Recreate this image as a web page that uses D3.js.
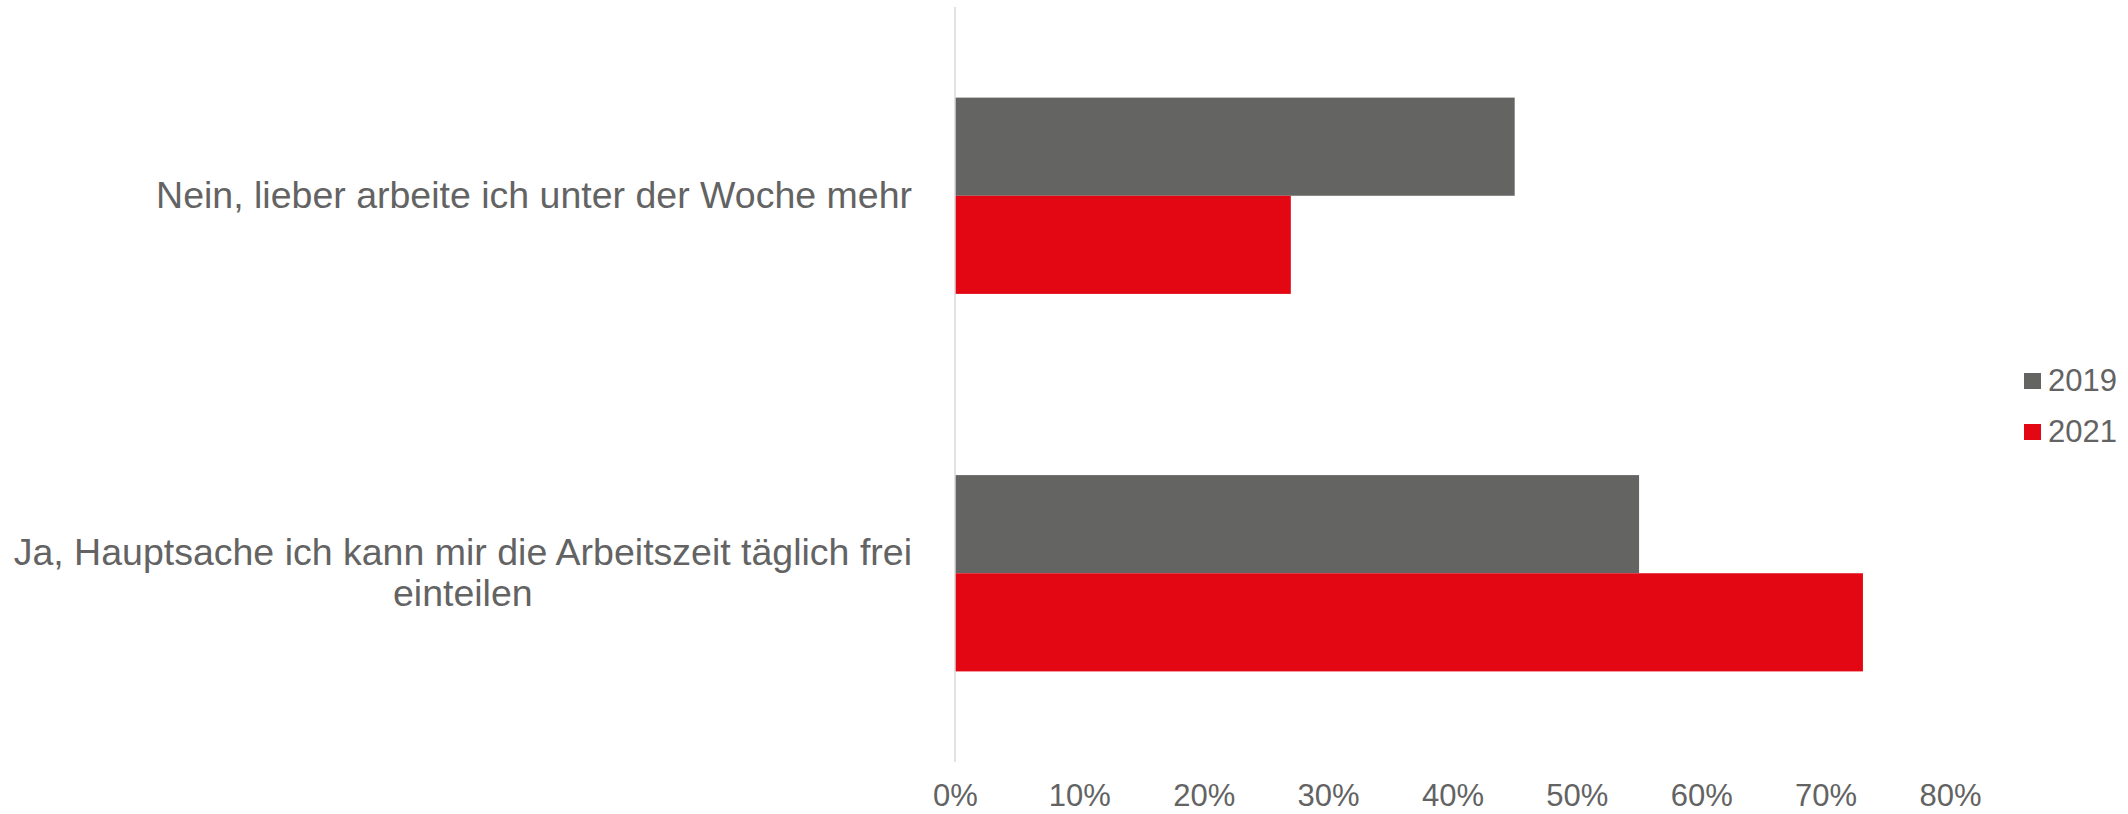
<!DOCTYPE html>
<html>
<head>
<meta charset="utf-8">
<script src="https://cdn.jsdelivr.net/npm/d3@7/dist/d3.min.js"></script>
<style>
	html, body { margin: 0; padding: 0; background: #fff; }
	svg { display: block; font-family: "Liberation Sans", Arial, sans-serif; }
</style>
</head>
<body>
<svg id="chart" width="2128" height="814"></svg>
<script>
(function () {
	'use strict';

	// data
	var categories = [
		['Nein, lieber arbeite ich unter der Woche mehr'],
		['Ja, Hauptsache ich kann mir die Arbeitszeit täglich frei', 'einteilen']
	];
	var series = ['2019', '2021'];
	var values2019 = [0.45, 0.55];
	var values2021 = [0.27, 0.73];
	var tickValues = [0, 0.1, 0.2, 0.3, 0.4, 0.5, 0.6, 0.7, 0.8];
	var colors = ['#646463', '#e30613'];

	var svg = d3.select('#chart'),
		textColor = '#636363',
		fontSize = 31,
		labelSize = 37.5,
		top = 7, bottom = 762, left = 955, right = 1950,
		seriesValues = [values2019, values2021],
		x, y0, y1, gap, rows, xAxis, legend;

	x = d3.scaleLinear().domain([0, 0.8]).range([left, right]);
	y0 = d3.scaleBand().domain(d3.range(categories.length)).range([top, bottom]);
	gap = y0.bandwidth() * 0.24;
	y1 = d3.scaleBand().domain(series).range([gap, y0.bandwidth() - gap]);

	// bars
	rows = svg.selectAll('g.row').data(categories).enter().append('g')
		.attr('class', 'row')
		.attr('transform', function (d, i) { return 'translate(0,' + y0(i) + ')'; });

	rows.selectAll('rect')
		.data(function (d, i) {
			return series.map(function (s, j) { return { s: s, v: seriesValues[j][i], c: colors[j] }; });
		})
		.enter().append('rect')
		.attr('x', x(0))
		.attr('y', function (d) { return y1(d.s); })
		.attr('width', function (d) { return x(d.v) - x(0); })
		.attr('height', y1.bandwidth())
		.attr('fill', function (d) { return d.c; });

	// category labels (multi-line, centred block, right edge near axis)
	rows.each(function (lines) {
		var g = d3.select(this),
			lineH = 41,
			mid = y0.bandwidth() / 2,
			t = g.append('text')
				.attr('fill', textColor)
				.attr('font-size', labelSize)
				.attr('text-anchor', 'middle'),
			widest;
		lines.forEach(function (line, k) {
			t.append('tspan')
				.attr('y', mid + (k - (lines.length - 1) / 2) * lineH + 12)
				.text(line);
		});
		widest = d3.max(t.selectAll('tspan').nodes(), function (n) { return n.getComputedTextLength(); });
		t.selectAll('tspan').attr('x', 912 - widest / 2);
	});

	// vertical axis line
	svg.append('line')
		.attr('x1', x(0)).attr('x2', x(0))
		.attr('y1', top).attr('y2', bottom)
		.attr('stroke', '#d9d9d9')
		.attr('stroke-width', 1.5);

	// x axis
	xAxis = svg.append('g')
		.attr('transform', 'translate(0,' + 781 + ')')
		.call(d3.axisBottom(x).tickValues(tickValues).tickSize(0).tickFormat(d3.format('.0%')));
	xAxis.select('.domain').remove();
	xAxis.selectAll('text')
		.attr('fill', textColor)
		.attr('font-size', fontSize)
		.attr('font-family', '"Liberation Sans", Arial, sans-serif')
		.attr('dy', '0.71em');

	// legend
	legend = svg.selectAll('g.legend').data(series).enter().append('g')
		.attr('class', 'legend')
		.attr('transform', function (d, i) { return 'translate(2024,' + (373 + i * 51) + ')'; });
	legend.append('rect')
		.attr('width', 17).attr('height', 16)
		.attr('fill', function (d, i) { return colors[i]; });
	legend.append('text')
		.attr('x', 24).attr('y', 18)
		.attr('fill', textColor)
		.attr('font-size', fontSize)
		.text(function (d) { return d; });
}());
</script>
</body>
</html>
